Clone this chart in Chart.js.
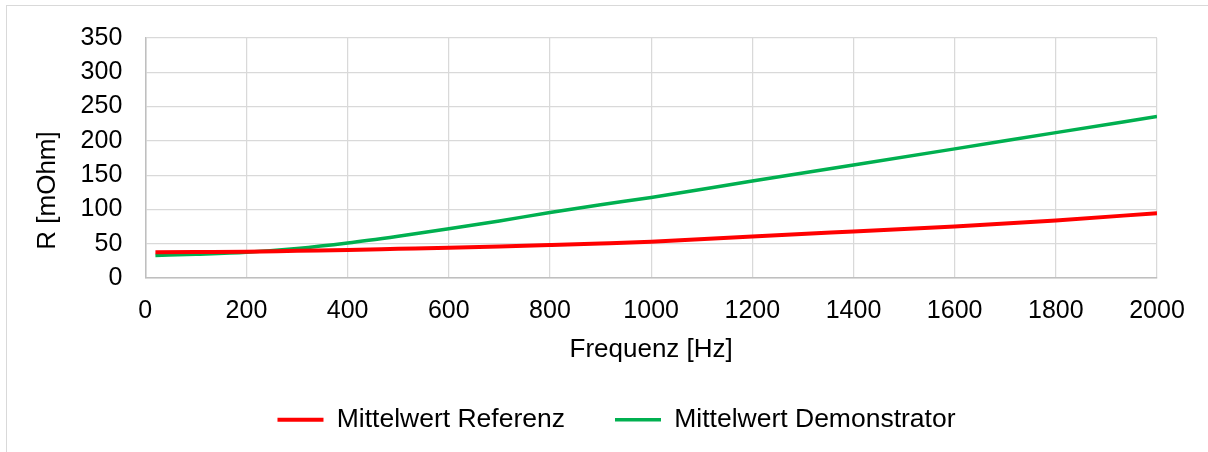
<!DOCTYPE html>
<html lang="de">
<head>
    <meta charset="UTF-8">
    <title>R ueber Frequenz</title>
    <style type="text/css">
        html, body {
            margin: 0;
            padding: 0;
            background: #fff;
        }
        .chartBox {
            position: relative;
            width: 1208px;
            height: 452px;
            overflow: hidden;
        }
        .frame {
            position: absolute;
            left: 6px;
            top: 5px;
            right: -2px;
            bottom: -2px;
            border-top: 1px solid #d9d9d9;
            border-left: 1px solid #d9d9d9;
        }
        canvas {
            position: absolute;
            left: 0;
            top: 0;
        }
    </style>
</head>
<body>
    <div class="chartBox">
        <div class="frame"></div>
        <canvas id="myChart" width="1208" height="452"></canvas>
    </div>

    <script src="https://cdn.jsdelivr.net/npm/chart.js"></script>
    <script>
        // Frequenz [Hz]
        var freq = [20, 100, 200, 300, 400, 500, 600, 700, 800, 900, 1000, 1200, 1400, 1600, 1800, 2000];
        // R [mOhm]
        var mittelwertReferenz = [37.5, 37.8, 38.2, 39.6, 40.8, 42.5, 44.2, 46, 48, 50.2, 52.8, 60.5, 67.8, 75, 84, 94.5];
        var mittelwertDemonstrator = [32.8, 34.6, 37.6, 43.2, 51.2, 61, 71.7, 83.2, 95.5, 106.8, 117.5, 141.5, 164.8, 188.3, 212, 235.5];

        var xMin = 0, xMax = 2000, xStep = 200;
        var yMin = 0, yMax = 350, yStep = 50;

        function toPoints(xs, ys) {
            return xs.map((x, i) => ({ x: x, y: ys[i] }));
        }

        Chart.defaults.font.family = '"Liberation Sans", Arial, sans-serif';
        Chart.defaults.color = '#000';

        var myChart = new Chart(document.getElementById('myChart').getContext('2d'), {
            type: 'line',
            data: {
                datasets: [{
                    label: 'Mittelwert Referenz',
                    data: toPoints(freq, mittelwertReferenz),
                    borderColor: '#ff0000',
                    backgroundColor: '#ff0000',
                    borderWidth: 4,
                    pointRadius: 0,
                    cubicInterpolationMode: 'monotone'
                }, {
                    label: 'Mittelwert Demonstrator',
                    data: toPoints(freq, mittelwertDemonstrator),
                    borderColor: '#00b050',
                    backgroundColor: '#00b050',
                    borderWidth: 3.5,
                    pointRadius: 0,
                    cubicInterpolationMode: 'monotone'
                }]
            },
            options: {
                responsive: false,
                animation: false,
                devicePixelRatio: 1,
                layout: {
                    padding: { left: 76, right: 51, top: 34, bottom: 9 }
                },
                scales: {
                    x: {
                        type: 'linear',
                        min: xMin,
                        max: xMax,
                        ticks: {
                            stepSize: xStep,
                            padding: 18,
                            font: { size: 25 },
                            callback: function(v) { return String(v); }
                        },
                        grid: { color: '#d9d9d9', lineWidth: 1.25, drawTicks: false },
                        border: { color: '#bfbfbf', width: 1.5 },
                        title: {
                            display: true,
                            text: 'Frequenz [Hz]',
                            font: { size: 26 },
                            padding: { top: 0, bottom: -8.6 }
                        },
                        afterFit: function(scale) { scale.height = 78.5; }
                    },
                    y: {
                        min: yMin,
                        max: yMax,
                        ticks: {
                            stepSize: yStep,
                            padding: 23,
                            font: { size: 25 },
                            callback: function(v) { return String(v); }
                        },
                        grid: { color: '#d9d9d9', lineWidth: 1.25, drawTicks: false },
                        border: { color: '#bfbfbf', width: 1.5 },
                        title: {
                            display: true,
                            // trailing spaces push the label down like in the original
                            text: 'R [mOhm]         ',
                            font: { size: 26 },
                            padding: { top: -44, bottom: 0 }
                        },
                        afterFit: function(scale) { scale.width = 69.3; }
                    }
                },
                plugins: {
                    legend: {
                        position: 'bottom',
                        labels: {
                            usePointStyle: true,
                            pointStyle: 'line',
                            pointStyleWidth: 46,
                            padding: 50,
                            font: { size: 26.5 }
                        }
                    },
                    tooltip: { enabled: false }
                }
            }
        });
    </script>
</body>
</html>
